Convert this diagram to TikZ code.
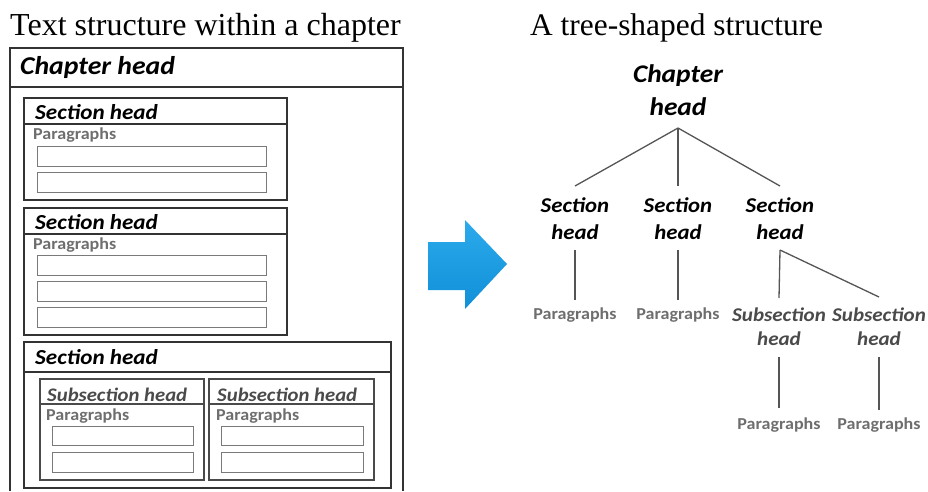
\documentclass[tikz,border=0pt]{standalone}
\usepackage{fontspec}
\setmainfont{Liberation Serif}
\newfontfamily\calfont[FakeStretch=1.08]{Carlito}
\definecolor{boxline}{HTML}{333333}
\definecolor{subline}{HTML}{4A4A4A}
\definecolor{paraline}{HTML}{7A7A7A}
\definecolor{paratext}{HTML}{6E6E6E}
\definecolor{treeline}{HTML}{555555}
\definecolor{arrtop}{HTML}{2CAAEC}
\definecolor{arrbot}{HTML}{118FD8}
\tikzset{
  title/.style={font=\fontsize{32}{36}\selectfont, anchor=base west, inner sep=0},
  headbox/.style={draw=boxline, line width=1.8pt, anchor=north west, inner sep=0},
  subbox/.style={draw=subline, line width=1.5pt, anchor=north west, inner sep=0},
  parabox/.style={draw=paraline, line width=1.4pt, anchor=north west, inner sep=0},
  chtext/.style={font=\calfont\bfseries\itshape\fontsize{25.7}{30}\selectfont, anchor=base west, inner sep=0},
  sectext/.style={font=\calfont\bfseries\itshape\fontsize{21.4}{25}\selectfont, anchor=base west, inner sep=0},
  subtext/.style={font=\calfont\bfseries\itshape\fontsize{19.2}{23}\selectfont, text=subline, anchor=base west, inner sep=0},
  ptext/.style={font=\calfont\bfseries\fontsize{16.7}{18}\selectfont, text=paratext, anchor=base west, inner sep=0},
  tchap/.style={font=\calfont\bfseries\itshape\fontsize{25.4}{33}\selectfont, align=center, inner sep=0},
  tsec/.style={font=\calfont\bfseries\itshape\fontsize{21.1}{27}\selectfont, align=center, inner sep=0},
  tsub/.style={font=\calfont\bfseries\itshape\fontsize{19.5}{24}\selectfont, align=center, inner sep=0, text=subline},
  tpara/.style={font=\calfont\bfseries\fontsize{16.7}{18}\selectfont, text=paratext, inner sep=0},
  conn/.style={draw=treeline, line width=1.3pt},
  divider/.style={draw=boxline, line width=1.8pt},
  subdivider/.style={draw=subline, line width=1.5pt}
}
\begin{document}
\begin{tikzpicture}[x=1pt,y=-1pt]
\useasboundingbox (0,0) rectangle (928,491);
% ---------- left panel ----------
\node[title] (lt) at (10,35) {Text structure within a chapter};
\draw[divider] (10,491) -- (10,48) -- (403,48) -- (403,491);
\draw[divider] (10,87) -- (403,87);
\node[chtext] (lch) at (20,74) {Chapter head};
% section 1
\node[headbox, minimum width=263pt, minimum height=102pt] (s1) at (23,97) {};
\draw[divider] (s1.west |- 0,124) -- (s1.east |- 0,124);
\node[sectext] (s1t) at (35,119) {Section head};
\node[ptext] (s1p) at (33,139) {Paragraphs};
\node[parabox, minimum width=229pt, minimum height=20pt] (s1a) at (37,146) {};
\node[parabox, minimum width=229pt, minimum height=20pt] (s1b) at (37,172) {};
% section 2
\node[headbox, minimum width=263pt, minimum height=127pt] (s2) at (23,207) {};
\draw[divider] (s2.west |- 0,234) -- (s2.east |- 0,234);
\node[sectext] (s2t) at (35,229) {Section head};
\node[ptext] (s2p) at (33,249) {Paragraphs};
\node[parabox, minimum width=229pt, minimum height=20pt] (s2a) at (37,255) {};
\node[parabox, minimum width=229pt, minimum height=20pt] (s2b) at (37,281) {};
\node[parabox, minimum width=229pt, minimum height=20pt] (s2c) at (37,307) {};
% section 3
\node[headbox, minimum width=367pt, minimum height=146pt] (s3) at (23,341) {};
\draw[divider] (s3.west |- 0,372) -- (s3.east |- 0,372);
\node[sectext] (s3t) at (35,364) {Section head};
% subsection 1
\node[subbox, minimum width=164pt, minimum height=101pt] (u1) at (39,378) {};
\draw[subdivider] (u1.west |- 0,404) -- (u1.east |- 0,404);
\node[subtext] (u1t) at (47,401) {Subsection head};
\node[ptext] (u1p) at (46,420) {Paragraphs};
\node[parabox, minimum width=141pt, minimum height=19pt] (u1a) at (52,426) {};
\node[parabox, minimum width=141pt, minimum height=20pt] (u1b) at (52,452) {};
% subsection 2
\node[subbox, minimum width=165pt, minimum height=101pt] (u2) at (208,378) {};
\draw[subdivider] (u2.west |- 0,404) -- (u2.east |- 0,404);
\node[subtext] (u2t) at (217,401) {Subsection head};
\node[ptext] (u2p) at (216,420) {Paragraphs};
\node[parabox, minimum width=142pt, minimum height=19pt] (u2a) at (221,426) {};
\node[parabox, minimum width=142pt, minimum height=20pt] (u2b) at (221,452) {};
% ---------- arrow ----------
\shade[top color=arrtop, bottom color=arrbot]
  (428,242) -- (465,242) -- (465,220) -- (507,264) -- (465,309) -- (465,290) -- (428,290) -- cycle;
% ---------- right panel ----------
\node[title, font=\fontsize{31.4}{36}\selectfont] (rt) at (530,35) {A tree-shaped structure};
\node[tchap] (ch) at (678,90) {Chapter\\head};
\node[tsec] (t1) at (575,219) {Section\\head};
\node[tsec] (t2) at (678,219) {Section\\head};
\node[tsec] (t3) at (780,219) {Section\\head};
\node[tpara] (p1) at (575,315) {Paragraphs};
\node[tpara] (p2) at (678,315) {Paragraphs};
\node[tsub] (b1) at (779,327) {Subsection\\head};
\node[tsub] (b2) at (879,327) {Subsection\\head};
\node[tpara] (p3) at (779,425) {Paragraphs};
\node[tpara] (p4) at (879,425) {Paragraphs};
\coordinate (ch-j) at (ch.south |- 0,128);
\coordinate (t3-j) at (t3.south |- 0,250);
\draw[conn] (ch-j) -- (t1.north |- 0,186);
\draw[conn] (ch-j) -- (t2.north |- 0,186);
\draw[conn] (ch-j) -- (t3.north |- 0,186);
\draw[conn] (t1.south |- 0,250) -- (p1.north |- 0,300);
\draw[conn] (t2.south |- 0,250) -- (p2.north |- 0,300);
\draw[conn] (t3-j) -- (b1.north |- 0,298);
\draw[conn] (t3-j) -- (b2.north |- 0,297);
\draw[conn] (b1.south |- 0,357) -- (p3.north |- 0,408);
\draw[conn] (b2.south |- 0,357) -- (p4.north |- 0,410);
\end{tikzpicture}
\end{document}
